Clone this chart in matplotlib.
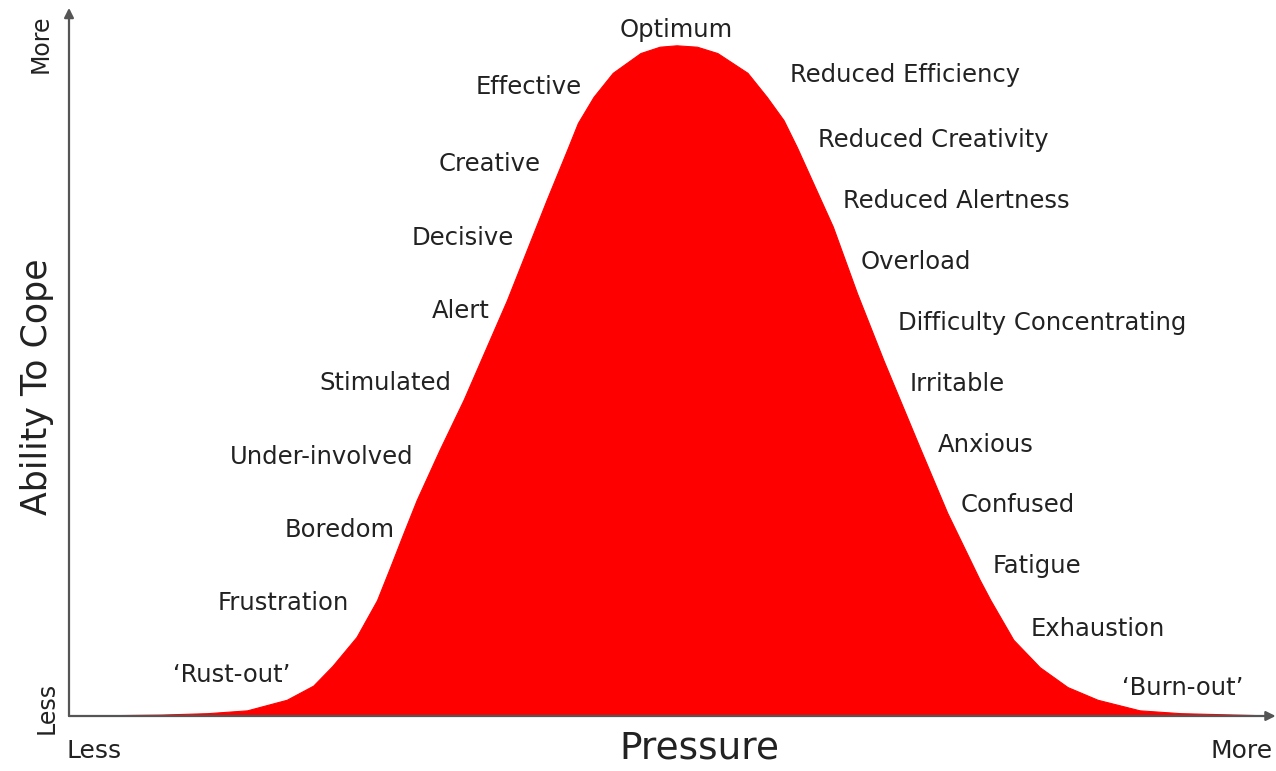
import matplotlib.pyplot as plt

# curve (pressure 0-100, ability to cope 0-100)
pressure = [2.6, 7.6, 11.5, 14.8, 18.1, 20.3, 21.9, 23.9, 25.6, 26.7, 27.8,
            28.9, 30.8, 32.8, 36.4, 39.7, 41.5, 42.3, 43.6, 45.2, 47.5, 49.1,
            50.5, 52.2, 53.9, 56.4, 58.0, 59.4, 60.5, 63.5, 65.5, 67.7, 70.7,
            73.0, 75.7, 76.6, 78.5, 80.7, 83.0, 85.5, 89.0, 92.4, 99.4]
ability = [0.1, 0.2, 0.4, 0.8, 2.3, 4.3, 7.1, 11.2, 16.4, 21.1, 25.9,
           30.6, 37.7, 44.8, 58.9, 73.1, 80.6, 84.0, 87.7, 91.1, 93.9, 94.8,
           95.0, 94.8, 93.9, 91.1, 87.7, 84.4, 80.6, 69.3, 59.9, 50.4, 38.1,
           28.8, 19.3, 16.4, 10.8, 6.9, 4.1, 2.3, 0.8, 0.4, 0.1]

left_labels = ["Effective", "Creative", "Decisive", "Alert", "Stimulated",
               "Under-involved", "Boredom", "Frustration", "\u2018Rust-out\u2019"]
right_labels = ["Reduced Efficiency", "Reduced Creativity", "Reduced Alertness",
                "Overload", "Difficulty Concentrating", "Irritable", "Anxious",
                "Confused", "Fatigue", "Exhaustion", "\u2018Burn-out\u2019"]

# where the labels sit
left_pos = [(42.6, 89.1), (39.2, 78.2), (37.0, 67.7), (35.0, 57.4),
            (31.8, 47.2), (28.6, 36.7), (27.1, 26.3), (23.3, 16.0),
            (18.4, 5.8)]
right_pos = [(59.9, 90.8), (62.3, 81.6), (64.3, 72.9), (65.8, 64.3),
             (68.9, 55.7), (69.9, 47.0), (72.2, 38.4), (74.1, 29.9),
             (76.8, 21.2), (79.9, 12.3), (87.5, 4.0)]

W, H = 1276, 771
fig = plt.figure(figsize=(W / 100, H / 100), dpi=100)
ax = fig.add_axes([69 / W, (H - 716) / H, (1272 - 69) / W, (716 - 10) / H])
ax.set_xlim(0, 100)
ax.set_ylim(0, 100)
ax.axis("off")

ax.fill_between(pressure, 0, ability, color="#ff0000", lw=0.8,
                edgecolor="#ff0000")

# axes with arrows
axis_col = "#555555"
ax.annotate("", xy=(100.3, 0), xytext=(0, 0), annotation_clip=False,
            arrowprops=dict(arrowstyle="-|>", color=axis_col, lw=1.6,
                            mutation_scale=14, shrinkA=0, shrinkB=0))
ax.annotate("", xy=(0, 100.3), xytext=(0, 0), annotation_clip=False,
            arrowprops=dict(arrowstyle="-|>", color=axis_col, lw=1.6,
                            mutation_scale=14, shrinkA=0, shrinkB=0))

txt = dict(color="#222222", fontsize=17.5, va="center", clip_on=False)
for label, (x, y) in zip(left_labels, left_pos):
    ax.text(x, y, label, ha="right", **txt)
for label, (x, y) in zip(right_labels, right_pos):
    ax.text(x, y, label, ha="left", **txt)
ax.text(50.5, 97.2, "Optimum", ha="center", **txt)

ax.text(52.4, -4.55, "Pressure", ha="center", va="center", fontsize=27,
        color="#222222", clip_on=False)
ax.text(-2.7, 46.6, "Ability To Cope", ha="center", va="center", fontsize=25,
        rotation=90, color="#222222", clip_on=False)
ax.text(2.1, -5.0, "Less", ha="center", va="center", fontsize=18,
        color="#222222", clip_on=False)
ax.text(97.5, -5.0, "More", ha="center", va="center", fontsize=18,
        color="#222222", clip_on=False)
ax.text(-2.4, 95.2, "More", ha="center", va="center", fontsize=17,
        rotation=90, color="#222222", clip_on=False)
ax.text(-1.9, 1.1, "Less", ha="center", va="center", fontsize=17,
        rotation=90, color="#222222", clip_on=False)

plt.savefig("out.png", dpi=100)
